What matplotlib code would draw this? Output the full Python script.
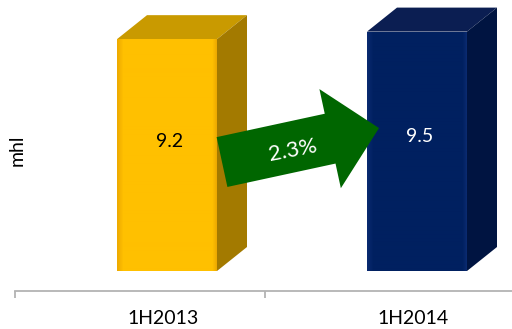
import matplotlib
matplotlib.use("Agg")
import matplotlib.pyplot as plt
import numpy as np
from matplotlib.patches import Polygon
from matplotlib.patches import ArrowStyle
from matplotlib.colors import to_rgb

categories = ["1H2013", "1H2014"]
values = [9.2, 9.5]
value_labels = ["9.2", "9.5"]
growth_label = "2.3%"
ylabel = "mhl"

front_colors = ["#FFC000", "#002060"]
edge_colors = ["#EEAA00", "#0A2A70"]
top_colors = ["#C99A00", "#0B1E52"]
side_colors = ["#A37A00", "#001441"]
text_colors = ["black", "white"]

plt.rcParams['font.family'] = ['Lato', 'DejaVu Sans']

W, H = 512, 329
fig = plt.figure(figsize=(W / 100, H / 100), dpi=100)
ax = fig.add_axes([15 / W, (H - 291) / H, 500 / W, 291 / H])

px_per_unit = 25.2
ax.set_xlim(-0.5, 1.5)
ax.set_ylim(-20 / px_per_unit, 271 / px_per_unit)

offset = 0.108
width = 0.4
dx = 0.12
dy = 24 / px_per_unit

for i, v in enumerate(values):
    x0 = i + offset - width / 2
    x1 = x0 + width
    # front face
    bars = ax.bar(i + offset, v, width=width, color=front_colors[i], zorder=3)
    # subtle horizontal shading on the front face
    n = 100
    t = np.linspace(0, 1, n)
    w_edge = np.clip(1 - np.minimum(t / 0.06, (1 - t) / 0.04), 0, 1)
    c0 = np.array(to_rgb(front_colors[i]))
    c1 = np.array(to_rgb(edge_colors[i]))
    grad = c0[None, :] * (1 - w_edge[:, None]) + c1[None, :] * w_edge[:, None]
    im = ax.imshow(grad[None, :, :], extent=[x0, x1, 0, v], aspect='auto',
                   zorder=3.5, interpolation='bilinear')
    im.set_clip_path(bars.patches[0])
    # top face
    ax.add_patch(Polygon([(x0, v), (x1, v), (x1 + dx, v + dy), (x0 + dx, v + dy)],
                         closed=True, facecolor=top_colors[i], edgecolor='none', zorder=2))
    # side face
    ax.add_patch(Polygon([(x1, 0), (x1 + dx, dy), (x1 + dx, v + dy), (x1, v)],
                         closed=True, facecolor=side_colors[i], edgecolor='none', zorder=2))
    ax.text(i + offset + 0.01, v * 0.56, value_labels[i], ha='center', va='center',
            fontsize=14, color=text_colors[i], zorder=5)

ax.set_xlim(-0.5, 1.5)
ax.set_ylim(-20 / px_per_unit, 271 / px_per_unit)

# growth arrow between bars
tail = (0.328, values[0] * 0.47)
tip = (0.956, values[1] * 0.597)
style = ArrowStyle("Simple", head_length=3.6, head_width=7.3, tail_width=3.67)
ax.annotate("", xy=tip, xytext=tail,
            arrowprops=dict(arrowstyle=style, mutation_scale=10, color="#006600",
                            shrinkA=0, shrinkB=0, lw=0),
            zorder=6)
ax.text(0.612, 4.78, growth_label, ha='center', va='center', rotation=11,
        fontsize=16, color='white', zorder=7)

for s in ['top', 'right', 'left']:
    ax.spines[s].set_visible(False)
ax.spines['bottom'].set_color('#B3B3B3')
ax.spines['bottom'].set_linewidth(1.3)
ax.set_yticks([])
ax.set_xticks([0.092, 1.092])
ax.set_xticklabels(categories, fontsize=14)
ax.tick_params(axis='x', length=0, pad=14)
ax.set_xticks([-0.5, 0.5, 1.5], minor=True)
ax.tick_params(axis='x', which='minor', length=5, color='#B3B3B3', width=1.3)

fig.text(17 / W, 1 - 150 / H, ylabel, rotation=90, ha='center', va='center', fontsize=14)

fig.savefig("out.png", dpi=100)
